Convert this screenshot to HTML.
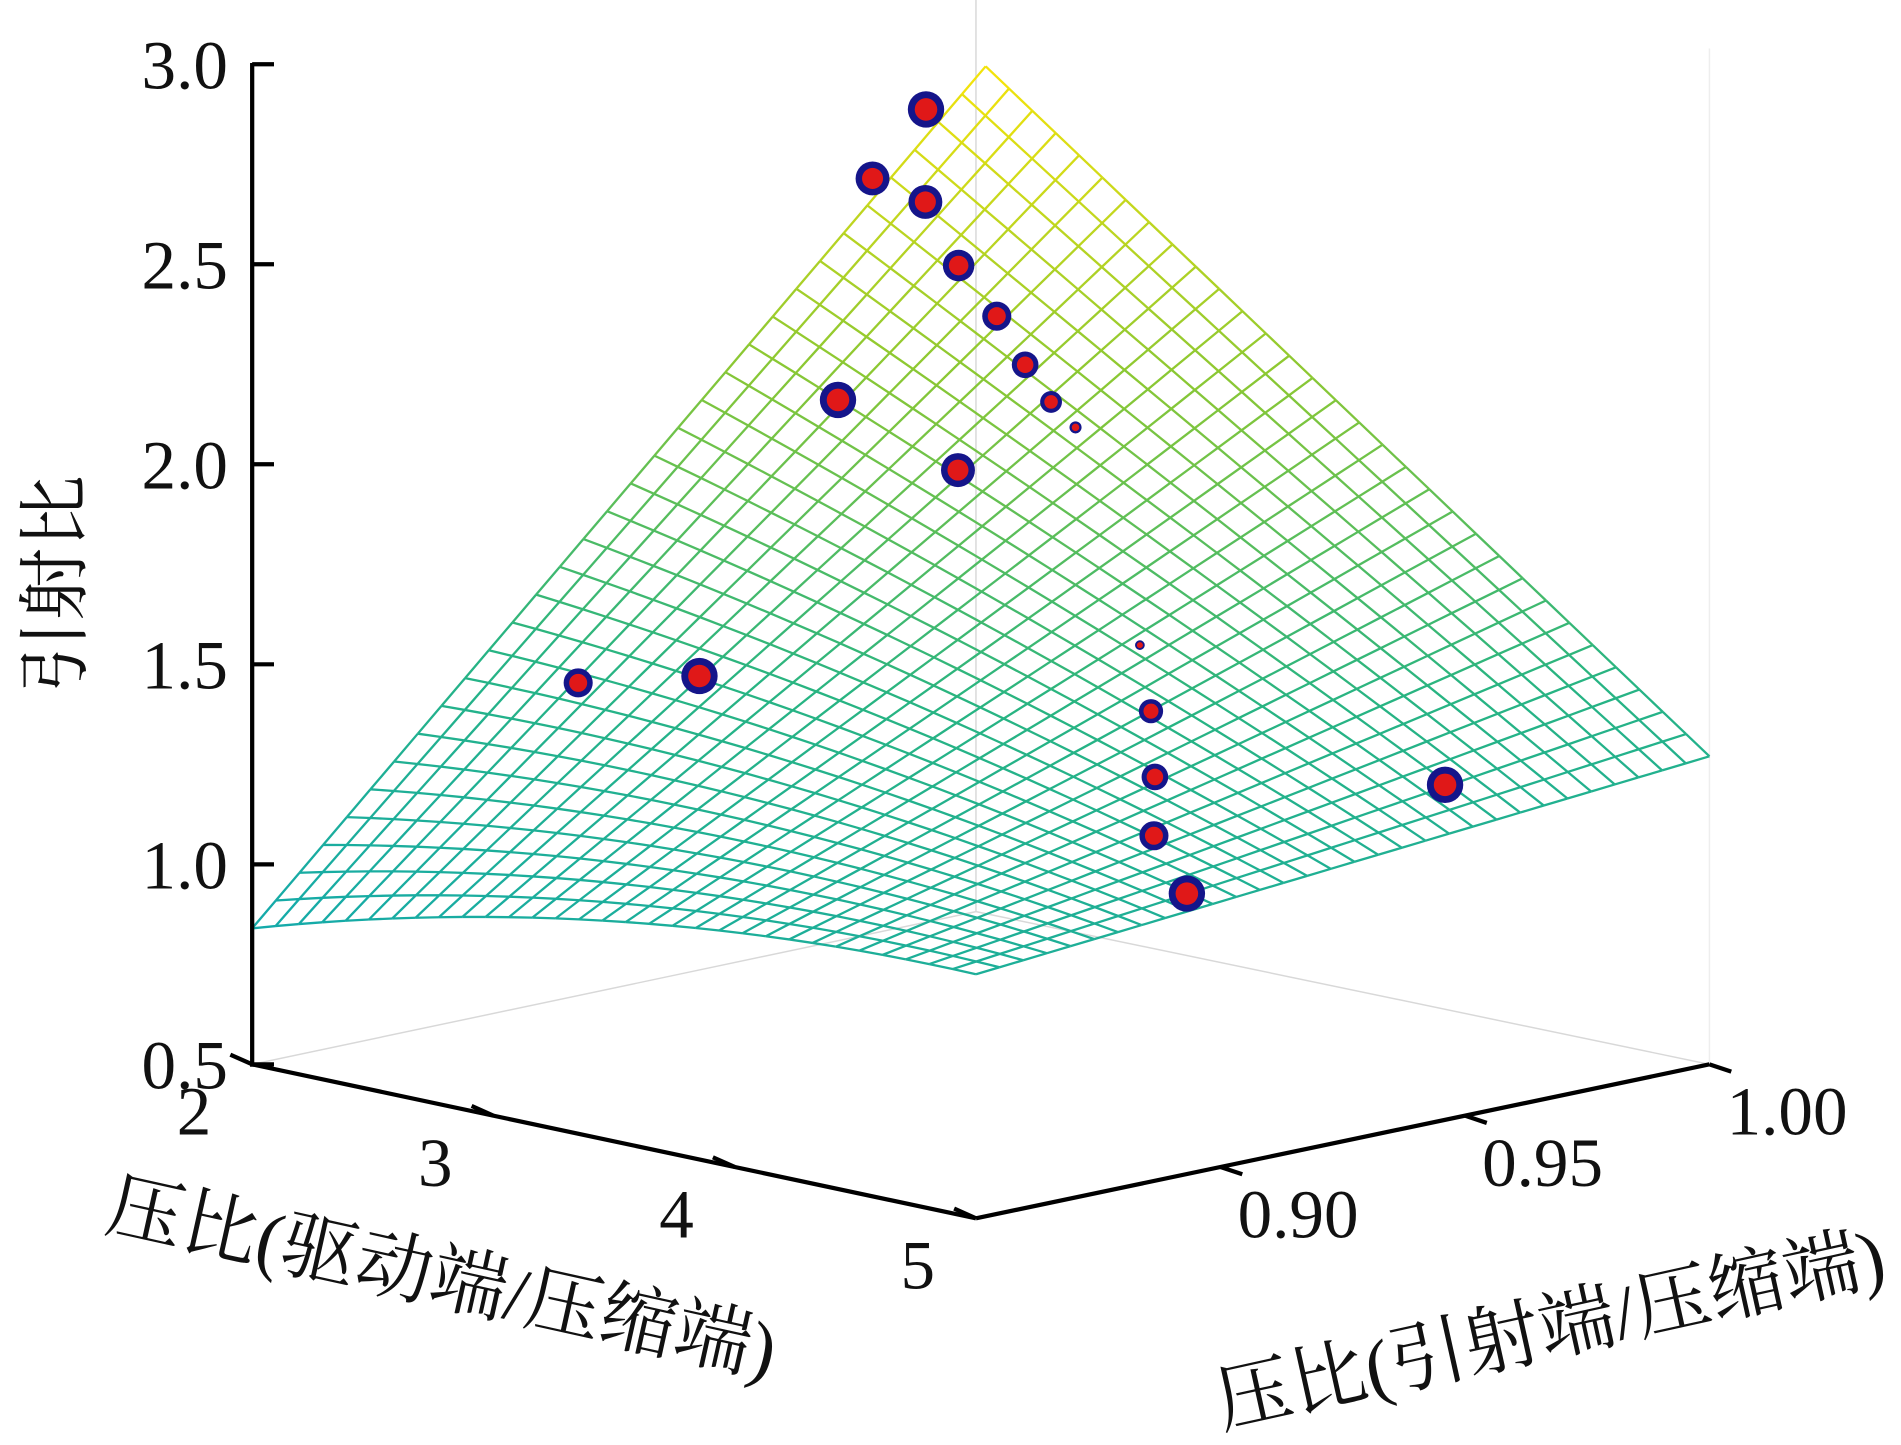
<!DOCTYPE html>
<html><head><meta charset="utf-8"><style>
html,body{margin:0;padding:0;background:#fff;width:1901px;height:1445px;overflow:hidden}
svg{display:block}
text{font-family:"Liberation Serif","Noto Serif CJK SC","Noto Sans CJK SC",serif;fill:#111}
</style></head><body>
<svg id="chart" width="1901" height="1445" viewBox="0 0 1568 1192" preserveAspectRatio="none" xmlns="http://www.w3.org/2000/svg">
<g id="back" stroke="#d8d8d8" stroke-width="1.2" fill="none">
<line x1="208" y1="878" x2="805" y2="752"/><line x1="805" y1="752" x2="1410" y2="878"/>
<line x1="805" y1="0" x2="805" y2="752"/><line x1="1410" y1="40" x2="1410" y2="878" stroke="#eee"/>
</g>
<g id="mesh"></g>
<g id="pts"></g>
<g id="axes" stroke="#000" stroke-width="3.5" fill="none">
<line x1="208" y1="52" x2="208" y2="880"/>
<line x1="208" y1="878" x2="805" y2="1005"/>
<line x1="805" y1="1005" x2="1410" y2="878"/>
</g>
<g id="ticks" stroke="#000" stroke-width="3.5"></g>
<g id="labels" font-size="57"></g>
<text font-size="60" transform="translate(66,482) rotate(-90)" text-anchor="middle">引射比</text>
<text font-size="63" transform="translate(85,1014) rotate(12.5)">压比(驱动端/压缩端)</text>
<text font-size="63" transform="translate(1008,1178) rotate(-12.5)">压比(引射端/压缩端)</text>
</svg>
<script>
const zTicks=[0.5,1.0,1.5,2.0,2.5,3.0];
const aTicks=[2,3,4,5];
const bTicks=[0.90,0.95,1.00];
const cornerZ=[0.84,1.11,2.61,1.27]; // (a2,b.85),(a5,b.85),(a2,b1),(a5,b1)
const frontBump=[0.075];
const ptA=[2.3,2.2,2.5,2.8,3.1,3.4,3.7,4.0,2.3,3.0,2.5,2.8,3.6,3.8,4.1,4.4,4.8,4.5];
const ptB=[0.973,0.967,0.963,0.955,0.948,0.939,0.9295,0.9197,0.955,0.945,0.892,0.902,0.9526,0.945,0.931,0.916,0.903,0.9706];
const ptZ=[2.61,2.44,2.43,2.33,2.26,2.20,2.17,2.17,1.93,1.87,1.41,1.44,1.49,1.37,1.28,1.21,1.15,1.21];
const ptR=[15,14,14,13,12,11,9,5,15,14,12,15,4,10,11,12,15,15];

const NS="http://www.w3.org/2000/svg";
function proj(a,b,z){const u=(a-2)/3,v=(b-0.85)/0.15;return[208+597*u+605*v,878+127*u-127*v-330*(z-0.5)];}
function surf(u,v){return cornerZ[0]*(1-u)*(1-v)+cornerZ[1]*u*(1-v)+cornerZ[2]*(1-u)*v+cornerZ[3]*u*v+frontBump[0]*4*u*(1-u)*(1-v);}
function col(z){const t=Math.max(0,Math.min(1,(z-0.85)/1.75));
 const stops=[[20,170,170],[40,180,130],[140,200,50],[245,228,10]];
 const s=t*3,i=Math.min(2,Math.floor(s)),f=s-i;const c=stops[i].map((x,k)=>Math.round(x+(stops[i+1][k]-x)*f));return`rgb(${c})`;}
function el(t,at,p){const e=document.createElementNS(NS,t);for(const k in at)e.setAttribute(k,at[k]);p.appendChild(e);return e;}
const mesh=document.getElementById('mesh');const N=31;
function P(i,j){const u=i/N,v=j/N;return proj(2+3*u,0.85+0.15*v,surf(u,v));}
for(let i=0;i<=N;i++)for(let j=0;j<N;j++){
 const p=P(i,j),q=P(i,j+1);const l=el('line',{x1:p[0],y1:p[1],x2:q[0],y2:q[1],stroke:col(surf(i/N,(j+.5)/N)),'stroke-width':1.9},mesh);
 
 
 const r=P(j,i),s=P(j+1,i);const m=el('line',{x1:r[0],y1:r[1],x2:s[0],y2:s[1],stroke:col(surf((j+.5)/N,i/N)),'stroke-width':1.9},mesh);
 
 
}
const pts=document.getElementById('pts');
ptA.forEach((a,k)=>{const p=proj(a,ptB[k],ptZ[k]);const r=ptR[k];
 const g=el('g',{},pts);
 
 
 el('circle',{cx:p[0],cy:p[1],r:r,fill:'#15158a'},g);
 el('circle',{cx:p[0],cy:p[1],r:r*0.62,fill:'#e01818'},g);
});
const ticks=document.getElementById('ticks'),labels=document.getElementById('labels');
zTicks.forEach(z=>{const y=878-330*(z-0.5);
 const t=el('line',{x1:208,y1:y,x2:226,y2:y},ticks);
 
 
 const tx=el('text',{x:188,y:y+20,'text-anchor':'end'},labels);tx.textContent=z.toFixed(1);
 
 
});
aTicks.forEach(a=>{const p=proj(a,0.85,0.5);
 const t=el('line',{x1:p[0],y1:p[1],x2:p[0]-18,y2:p[1]-8},ticks);
 
 
 const tx=el('text',{x:p[0]-48,y:p[1]+58,'text-anchor':'middle'},labels);tx.textContent=a;
 
 
});
bTicks.forEach(b=>{const p=proj(5,b,0.5);
 const t=el('line',{x1:p[0],y1:p[1],x2:p[0]+18,y2:p[1]+6},ticks);
 
 
 const tx=el('text',{x:p[0]+64,y:p[1]+58,'text-anchor':'middle'},labels);tx.textContent=b.toFixed(2);
 
 
});
</script>
</body></html>
